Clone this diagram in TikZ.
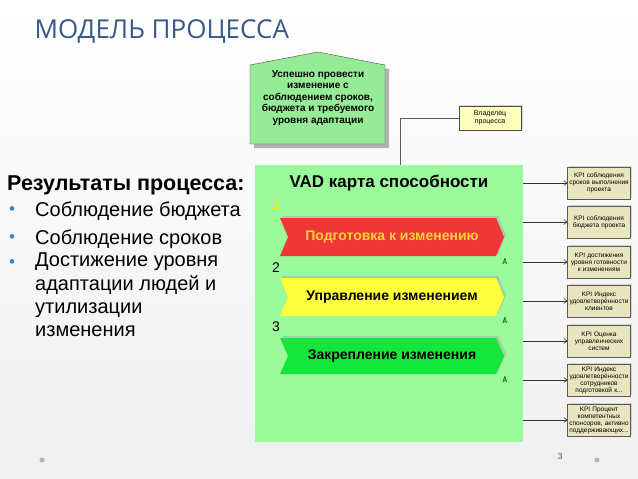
\documentclass[tikz,border=0pt]{standalone}
\usepackage{fontspec}
\setmainfont{Liberation Sans}
\newfontfamily\titlefont{Open Sans}
\usetikzlibrary{arrows.meta,shadows}
\definecolor{kpifill}{RGB}{232,230,190}
\definecolor{titleblue}{RGB}{55,90,140}
\definecolor{goalgreen}{RGB}{150,235,150}
\definecolor{ownerfill}{RGB}{255,255,190}
\definecolor{vadgreen}{RGB}{155,250,155}
\definecolor{cred}{RGB}{240,55,55}
\definecolor{cyel}{RGB}{255,255,60}
\definecolor{cgrn}{RGB}{20,230,60}
\definecolor{redtext}{RGB}{255,210,60}
\definecolor{bulblue}{RGB}{60,130,210}
\begin{document}
\begin{tikzpicture}[x=1pt,y=-1pt,
  kpi/.style={draw=gray!70!black,fill=kpifill,minimum width=62,minimum height=32,text width=62,align=center,font=\fontsize{6.5}{7}\selectfont,inner sep=0.5,drop shadow={shadow xshift=1.5,shadow yshift=-1.5,fill=gray!60}},
  conn/.style={draw=black!80,line width=0.6,-{Straight Barb[length=3,width=5]}},
  chev/.style={draw=none,drop shadow={shadow xshift=2,shadow yshift=-2,fill=black!35}},
  num/.style={font=\fontsize{14}{14}\selectfont},
  ctext/.style={font=\bfseries\fontsize{14}{14}\selectfont},
  bul/.style={anchor=west,inner sep=0,font=\fontsize{20}{23.3}\selectfont,align=left},
  dot/.style={anchor=west,inner sep=0,font=\fontsize{17}{17}\selectfont,text=bulblue}]
\useasboundingbox (0,0) rectangle (638,479);
\shade[top color=white,bottom color=gray!12] (0,0) rectangle (638,479);
% title
\node[anchor=west,font=\titlefont\fontsize{26}{26}\selectfont,text=titleblue] (title) at (31,31) {МОДЕЛЬ ПРОЦЕССА};
% goal house
\fill[gray!60] (254,69) -- (322,56) -- (389,69) -- (389,148) -- (254,148) -- cycle;
\filldraw[fill=goalgreen,draw=gray!60!black,line width=0.4] (250,65) -- (318,52) -- (385,65) -- (385,144) -- (250,144) -- cycle;
\node[align=center,font=\bfseries\fontsize{10}{11.5}\selectfont] (goal) at (318,98) {Успешно провести\\изменение с\\соблюдением сроков,\\бюджета и требуемого\\уровня адаптации};
% owner
\node[draw=gray!60!black,fill=ownerfill,minimum width=62,minimum height=24,align=center,font=\fontsize{7}{8}\selectfont,drop shadow={shadow xshift=1.5,shadow yshift=-1.5,fill=gray!60}] (owner) at (490,118) {Владелец\\процесса};
% VAD area
\fill[vadgreen] (255,165) rectangle (523,442);
\coordinate (vadtop) at (400,165);
\draw[gray!70!black,line width=0.5] (owner.west) -| (vadtop);
\node[font=\bfseries\fontsize{17}{17}\selectfont] (vad) at (389,183) {VAD карта способности};
% chevrons
\newcommand\chevshape[3]{\fill[#1,chev] (280,#2-#3) -- (496,#2-#3) -- (504,#2) -- (496,#2+#3) -- (280,#2+#3) -- (288,#2) -- cycle;}
\chevshape{cred}{237}{19}
\chevshape{cyel}{297}{19}
\chevshape{cgrn}{356}{18}
\node[ctext,text=redtext] (p1) at (392,237) {Подготовка к изменению};
\node[ctext] (p2) at (392,297) {Управление изменением};
\node[ctext] (p3) at (392,356) {Закрепление изменения};
\node[num,text=yellow!90!orange] (n1) at (276,205) {1};
\node[num] (n2) at (276,268) {2};
\node[num] (n3) at (276,327) {3};
\foreach \y/\n in {261/i1,320/i2,379/i3}{
  \node[inner sep=0,font=\fontsize{7}{7}\selectfont\bfseries,text=green!45!black] (\n) at (505,\y) {Å};}
% KPI boxes
\node[kpi] (k1) at (599,183) {KPI соблюдения сроков выполнения проекта};
\node[kpi] (k2) at (599,222) {KPI соблюдения бюджета проекта};
\node[kpi] (k3) at (599,262) {KPI достижения уровня готовности к изменениям};
\node[kpi] (k4) at (599,301) {KPI Индекс удовлетворённости клиентов};
\node[kpi] (k5) at (599,341) {KPI Оценка управленческих систем};
\node[kpi] (k6) at (599,380) {KPI Индекс удовлетворённости сотрудников подготовкой к...};
\node[kpi] (k7) at (599,420) {KPI Процент компетентных спонсоров, активно поддерживающих...};
\foreach \k in {1,...,7}{
  \coordinate (s\k) at (523,0 |- k\k.west);
  \draw[conn] (s\k) -- (k\k.west);}
% left text
\node[bul,font=\bfseries\fontsize{21.5}{23}\selectfont] (res) at (7,185) {Результаты процесса:};
\node[dot] (d1) at (9,211) {•};
\node[bul] (b1) at (35,211) {Соблюдение бюджета};
\node[dot] (d2) at (9,239) {•};
\node[bul] (b2) at (35,239) {Соблюдение сроков};
\node[dot] (d3) at (9,264) {•};
\node[bul,anchor=north west] (b3) at (35,253) {Достижение уровня\\адаптации людей и\\утилизации\\изменения};
% footer
\node[font=\fontsize{9}{9}\selectfont,text=gray!70!black] (pg) at (560,456) {3};
\fill[gray!60] (42,460) circle (2.5) (597,460) circle (2.5);
\end{tikzpicture}
\end{document}
